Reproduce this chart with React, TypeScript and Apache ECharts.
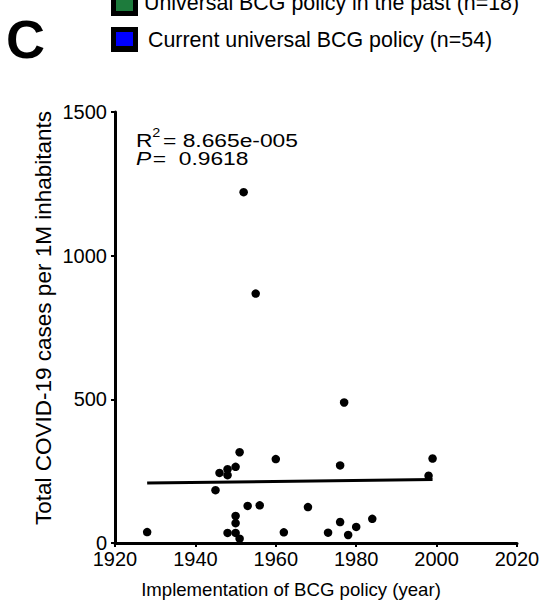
import React, { useEffect, useRef } from "react";
import * as echarts from "echarts";

const years = [1928, 1945, 1946, 1948, 1948, 1948, 1950, 1950, 1950, 1950, 1951, 1951, 1952, 1953, 1955, 1956, 1960, 1962, 1968, 1973, 1976, 1976, 1977, 1978, 1980, 1984, 1998, 1999];
const cases = [38, 184, 244, 257, 236, 35, 265, 94, 69, 35, 316, 15, 1221, 129, 868, 131, 292, 37, 125, 36, 270, 73, 489, 28, 56, 84, 234, 294];
const fitYears = [1928, 1999];
const fitCases = [209, 221];
const legendLabels = ["Universal BCG policy in the past (n=18)", "Current universal BCG policy (n=54)"];
const legendColors = ["#1d7b3c", "#0000ff"];
const statR2 = "8.665e-005";
const statP = "0.9618";
const xTitle = "Implementation of BCG policy (year)";
const yTitle = "Total COVID-19 cases per 1M inhabitants";

const FONT = "'Liberation Sans', Arial, Helvetica, sans-serif";

export default function App() {
  const ref = useRef<HTMLDivElement>(null);
  useEffect(() => {
    const chart = echarts.init(ref.current!, null, { renderer: "svg" });
    const points = years.map((y, i) => [y, cases[i]]);
    const fit = fitYears.map((y, i) => [y, fitCases[i]]);
    chart.setOption({
      animation: false,
      backgroundColor: "#ffffff",
      textStyle: { fontFamily: FONT },
      grid: { left: 115, right: 26, top: 112, bottom: 61 },
      xAxis: {
        type: "value",
        min: 1920,
        max: 2020,
        interval: 20,
        axisLine: { show: true, onZero: false, lineStyle: { color: "#000", width: 3 } },
        axisTick: { show: true, length: 4, lineStyle: { color: "#000", width: 2 } },
        axisLabel: { fontSize: 20, color: "#000", margin: 6, fontFamily: FONT, formatter: (v: number) => String(v) },
        splitLine: { show: false },
      },
      yAxis: {
        type: "value",
        min: 0,
        max: 1500,
        interval: 500,
        axisLine: { show: true, onZero: false, lineStyle: { color: "#000", width: 3 } },
        axisTick: { show: true, length: 4, lineStyle: { color: "#000", width: 2 } },
        axisLabel: { fontSize: 20, color: "#000", margin: 8, fontFamily: FONT, formatter: (v: number) => String(v) },
        splitLine: { show: false },
      },
      series: [
        {
          type: "scatter",
          data: points,
          symbol: "circle",
          symbolSize: 8.5,
          itemStyle: { color: "#000", opacity: 1 },
        },
        {
          type: "line",
          data: fit,
          symbol: "none",
          lineStyle: { color: "#000", width: 3 },
        },
      ],
      graphic: [
        { type: "text", left: 6, top: 12, style: { text: "C", font: `bold 54px ${FONT}`, fill: "#000" } },
        { type: "rect", shape: { x: 111, y: -9, width: 27, height: 25 }, style: { fill: "#000" } },
        { type: "rect", shape: { x: 116, y: -4, width: 17, height: 15 }, style: { fill: legendColors[0] } },
        { type: "rect", shape: { x: 111, y: 27, width: 27, height: 25 }, style: { fill: "#000" } },
        { type: "rect", shape: { x: 116, y: 32, width: 17, height: 14 }, style: { fill: legendColors[1] } },
        { type: "text", x: 144, y: 3, style: { text: legendLabels[0], font: `21.4px ${FONT}`, fill: "#000", verticalAlign: "middle" } },
        { type: "text", x: 148, y: 40, style: { text: legendLabels[1], font: `21.4px ${FONT}`, fill: "#000", verticalAlign: "middle" } },
        { type: "text", x: 291, y: 589, style: { text: xTitle, font: `18.6px ${FONT}`, fill: "#000", align: "center", verticalAlign: "middle" } },
        { type: "text", x: 43, y: 318, rotation: Math.PI / 2, style: { text: yTitle, font: `22.5px ${FONT}`, fill: "#000", align: "center", verticalAlign: "middle" } },
        {
          type: "group",
          x: 136,
          y: 0,
          scaleX: 1.2,
          children: [
            { type: "text", x: 0, y: 140, style: { text: "R", font: `19px ${FONT}`, fill: "#000", verticalAlign: "middle" } },
            { type: "text", x: 13.5, y: 133, style: { text: "2", font: `12px ${FONT}`, fill: "#000", verticalAlign: "middle" } },
            { type: "text", x: 22.5, y: 140, style: { text: "= " + statR2, font: `19px ${FONT}`, fill: "#000", verticalAlign: "middle" } },
            { type: "text", x: 0, y: 158, style: { text: "P", font: `italic 19px ${FONT}`, fill: "#000", verticalAlign: "middle" } },
            { type: "text", x: 14, y: 158, style: { text: "=  " + statP, font: `19px ${FONT}`, fill: "#000", verticalAlign: "middle" } },
          ],
        },
      ],
    });
    return () => chart.dispose();
  }, []);
  return <div ref={ref} style={{ position: "absolute", left: 0, top: 0, width: 543, height: 604 }} />;
}
